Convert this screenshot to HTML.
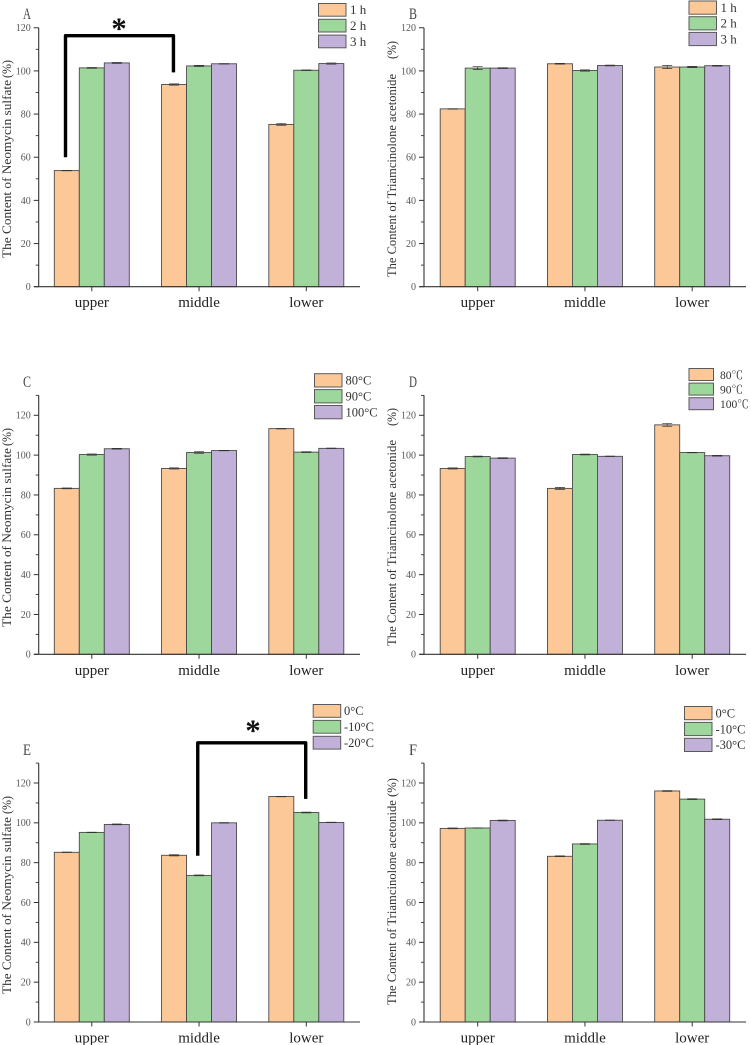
<!DOCTYPE html>
<html lang="en">
<head>
<meta charset="utf-8">
<title>Content of Neomycin sulfate and Triamcinolone acetonide</title>
<style>
html,body{margin:0;padding:0;background:#fff;}
body{width:751px;height:1045px;overflow:hidden;}
svg{display:block;filter:blur(0.35px);}
text{font-family:"Liberation Serif","Noto Serif CJK SC","Noto Sans CJK SC",serif;}
</style>
</head>
<body>
<svg id="figure" xmlns="http://www.w3.org/2000/svg" width="751" height="1045" viewBox="0 0 751 1045"></svg>
<script>
const categories = ['upper', 'middle', 'lower'];
const yTicks = [0, 20, 40, 60, 80, 100, 120];

const valuesA = [[53.8, 93.7, 75.2], [101.4, 102.3, 100.3], [103.7, 103.3, 103.4]];
const errorsA = [[0.1, 0.3, 0.4], [0.2, 0.3, 0.1], [0.2, 0.1, 0.3]];
const valuesB = [[82.4, 103.3, 101.8], [101.3, 100.2, 101.8], [101.3, 102.5, 102.4]];
const errorsB = [[0.1, 0.2, 0.7], [0.7, 0.3, 0.3], [0.2, 0.2, 0.2]];
const valuesC = [[83.3, 93.3, 113.3], [100.3, 101.3, 101.5], [103.2, 102.3, 103.4]];
const errorsC = [[0.2, 0.3, 0.1], [0.3, 0.4, 0.2], [0.2, 0.1, 0.1]];
const valuesD = [[93.3, 83.3, 115.2], [99.3, 100.3, 101.3], [98.5, 99.4, 99.7]];
const errorsD = [[0.3, 0.5, 0.7], [0.2, 0.2, 0.1], [0.2, 0.1, 0.2]];
const valuesE = [[85.2, 83.7, 113.2], [95.2, 73.6, 105.2], [99.2, 100, 100.2]];
const errorsE = [[0.1, 0.3, 0.1], [0.1, 0.2, 0.2], [0.2, 0.1, 0.1]];
const valuesF = [[97.2, 83.2, 116], [97.4, 89.4, 111.9], [101.2, 101.3, 101.8]];
const errorsF = [[0.2, 0.2, 0.2], [0.1, 0.2, 0.2], [0.2, 0.1, 0.2]];

const legendA = ['1 h', '2 h', '3 h'];
const legendB = ['1 h', '2 h', '3 h'];
const legendC = ['80°C', '90°C', '100°C'];
const legendD = ['80℃', '90℃', '100℃'];
const legendE = ['0°C', '-10°C', '-20°C'];
const legendF = ['0°C', '-10°C', '-30°C'];

const fills = ['#FDC897', '#9DD79B', '#C1B0D8'];
const svgNS = 'http://www.w3.org/2000/svg';
const figure = document.getElementById('figure');

const panels = [
  {id:'a', letter:'A', values:valuesA, errors:errorsA, legend:legendA,
   axisX:38.7, firstCenter:91.8, endX:360, y0:286.7, yUnit:2.158, yMax:120,
   letterX:23, letterY:19, title:'The Content of Neomycin sulfate', unit:'(%)', titleX:11, unitTop:60, mainTop:80, titleBottom:258,
   legX:318.5, legY:3.5, legW:27.5, legH:12.7, legStep:15.8, legFont:13, legTextX:350,
   bracket:{g1:0, s1:0, g2:1, s2:0, top:116.3, foot1:60, foot2:99.3}, starX:119, starY:38.5},
  {id:'b', letter:'B', values:valuesB, errors:errorsB, legend:legendB,
   axisX:424, firstCenter:477.7, endX:746, y0:286.7, yUnit:2.158, yMax:120,
   letterX:409, letterY:19, title:'The Content of Triamcinolone acetonide', unit:'(%)', titleX:396, unitTop:41, mainTop:74, titleBottom:277,
   legX:689, legY:1, legW:27.5, legH:13.2, legStep:15.7, legFont:13, legTextX:720.5},
  {id:'c', letter:'C', values:valuesC, errors:errorsC, legend:legendC,
   axisX:38.7, firstCenter:91.8, endX:360, y0:654.3, yUnit:1.9917, yMax:130,
   letterX:23, letterY:387, title:'The Content of Neomycin sulfate', unit:'(%)', titleX:11, unitTop:428, mainTop:448, titleBottom:627,
   legX:314.5, legY:373.7, legW:27.5, legH:13.3, legStep:15.9, legFont:12.5, legTextX:345.5},
  {id:'d', letter:'D', values:valuesD, errors:errorsD, legend:legendD,
   axisX:424, firstCenter:477.7, endX:746, y0:654.3, yUnit:1.9917, yMax:130,
   letterX:409, letterY:387, title:'The Content of Triamcinolone acetonide', unit:'(%)', titleX:396, unitTop:408, mainTop:440, titleBottom:646,
   legX:689, legY:368.5, legW:24.5, legH:12, legStep:14.6, legFont:11.5, legTextX:720},
  {id:'e', letter:'E', values:valuesE, errors:errorsE, legend:legendE,
   axisX:38.7, firstCenter:91.8, endX:360, y0:1022, yUnit:1.9917, yMax:130,
   letterX:23, letterY:755, title:'The Content of Neomycin sulfate', unit:'(%)', titleX:11, unitTop:796, mainTop:817, titleBottom:994,
   legX:313.2, legY:704.5, legW:27.5, legH:12.8, legStep:15.9, legFont:12.5, legTextX:344,
   bracket:{g1:1, s1:1, g2:2, s2:1, top:140.2, foot1:83.5, foot2:112}, starX:253, starY:740.5},
  {id:'f', letter:'F', values:valuesF, errors:errorsF, legend:legendF,
   axisX:424, firstCenter:477.7, endX:746, y0:1022, yUnit:1.9917, yMax:130,
   letterX:409, letterY:755, title:'The Content of Triamcinolone acetonide (%)', unit:'', titleX:396, unitTop:778, mainTop:778, titleBottom:1005,
   legX:684.5, legY:706.5, legW:27.5, legH:13.2, legStep:15.9, legFont:12.5, legTextX:715.5}
];

const groupStep = 107.25;
const barWidth = 25;

function make(parent, tag, attrs, content) {
  const el = document.createElementNS(svgNS, tag);
  for (const key in attrs) el.setAttribute(key, attrs[key]);
  if (content !== undefined) el.textContent = content;
  parent.appendChild(el);
  return el;
}

panels.forEach(function (p) {
  const yScale = function (v) { return p.y0 - v * p.yUnit; };
  const groupCenter = function (g) { return p.firstCenter + g * groupStep; };
  const barLeft = function (g, s) { return groupCenter(g) + (s - 1.5) * barWidth; };

  const panel = make(figure, 'g', {});
  
  

  const letter = make(panel, 'text', {
    x:p.letterX, y:p.letterY, 'font-size':16, fill:'#444',
    textLength:8, lengthAdjust:'spacingAndGlyphs'
  }, p.letter);
  
  

  const titleY = (p.mainTop + p.titleBottom) / 2;
  const title = make(panel, 'text', {
    x:p.titleX, y:titleY, 'font-size':13, fill:'#333', 'text-anchor':'middle',
    textLength:p.titleBottom - p.mainTop, lengthAdjust:'spacingAndGlyphs',
    transform:'rotate(-90 ' + p.titleX + ' ' + titleY + ')'
  }, p.title);
  
  

  if (p.unit) {
    const unitY = p.unitTop + 9;
    const unit = make(panel, 'text', {
      x:p.titleX, y:unitY, 'font-size':12.5, fill:'#333', 'text-anchor':'middle',
      textLength:18, lengthAdjust:'spacingAndGlyphs',
      transform:'rotate(-90 ' + p.titleX + ' ' + unitY + ')'
    }, p.unit);
    
    
  }

  p.values.forEach(function (series, s) {
    series.forEach(function (value, g) {
      const bar = make(panel, 'rect', {
        x:barLeft(g, s), y:yScale(value), width:barWidth, height:p.y0 - yScale(value),
        fill:fills[s], stroke:'#4a4a4a', 'stroke-width':0.9
      });
      
      

      const err = p.errors[s][g];
      const cx = barLeft(g, s) + barWidth / 2;
      const errorBar = make(panel, 'path', {
        d:'M' + (cx - 5) + ' ' + yScale(value + err) + 'H' + (cx + 5) +
          'M' + (cx - 5) + ' ' + yScale(value - err) + 'H' + (cx + 5) +
          'M' + cx + ' ' + yScale(value + err) + 'V' + yScale(value - err),
        fill:'none', stroke:'#333', 'stroke-width':0.7
      });
      
      
    });
  });

  const yAxis = make(panel, 'line', {x1:p.axisX, x2:p.axisX, y1:yScale(p.yMax), y2:p.y0, stroke:'#333', 'stroke-width':1.1});
  
  

  const xAxis = make(panel, 'line', {x1:p.axisX - 4.5, x2:p.endX, y1:p.y0, y2:p.y0, stroke:'#333', 'stroke-width':1.1});
  
  

  yTicks.forEach(function (tick) {
    const mark = make(panel, 'line', {x1:p.axisX - 5, x2:p.axisX, y1:yScale(tick), y2:yScale(tick), stroke:'#333', 'stroke-width':1});
    
    

    const label = make(panel, 'text', {x:p.axisX - 8, y:yScale(tick) + 3.4, 'font-size':10, fill:'#555', 'text-anchor':'end'}, String(tick));
    
    

    if (tick + 10 <= p.yMax) {
      const minor = make(panel, 'line', {x1:p.axisX - 3, x2:p.axisX, y1:yScale(tick + 10), y2:yScale(tick + 10), stroke:'#333', 'stroke-width':0.9});
      
      
    }
  });

  categories.forEach(function (category, g) {
    const mark = make(panel, 'line', {x1:groupCenter(g), x2:groupCenter(g), y1:p.y0, y2:p.y0 + 4.5, stroke:'#333', 'stroke-width':1});
    
    

    const label = make(panel, 'text', {x:groupCenter(g), y:p.y0 + 20.5, 'font-size':15, fill:'#222', 'text-anchor':'middle'}, category);
    
    
  });

  p.legend.forEach(function (name, s) {
    const swatch = make(panel, 'rect', {
      x:p.legX, y:p.legY + s * p.legStep, width:p.legW, height:p.legH,
      fill:fills[s], stroke:'#5a5a5a', 'stroke-width':1
    });
    
    

    const label = make(panel, 'text', {
      x:p.legTextX, y:p.legY + s * p.legStep + p.legH / 2 + 4.3,
      'font-size':p.legFont, fill:'#333'
    }, name);
    
    
  });

  if (p.bracket) {
    const b = p.bracket;
    const x1 = barLeft(b.g1, b.s1) + barWidth / 2 - 1.3;
    const x2 = barLeft(b.g2, b.s2) + barWidth / 2 - 0.6;
    const bracket = make(panel, 'path', {
      d:'M' + x1 + ' ' + yScale(b.foot1) + 'V' + yScale(b.top) + 'H' + x2 + 'V' + yScale(b.foot2),
      fill:'none', stroke:'#000', 'stroke-width':3.4, 'stroke-linejoin':'round'
    });
    
    

    const star = make(panel, 'text', {
      x:p.starX, y:p.starY, 'font-size':31, 'font-weight':'bold', fill:'#111', 'text-anchor':'middle'
    }, '*');
    
    
  }
});
</script>
</body>
</html>
